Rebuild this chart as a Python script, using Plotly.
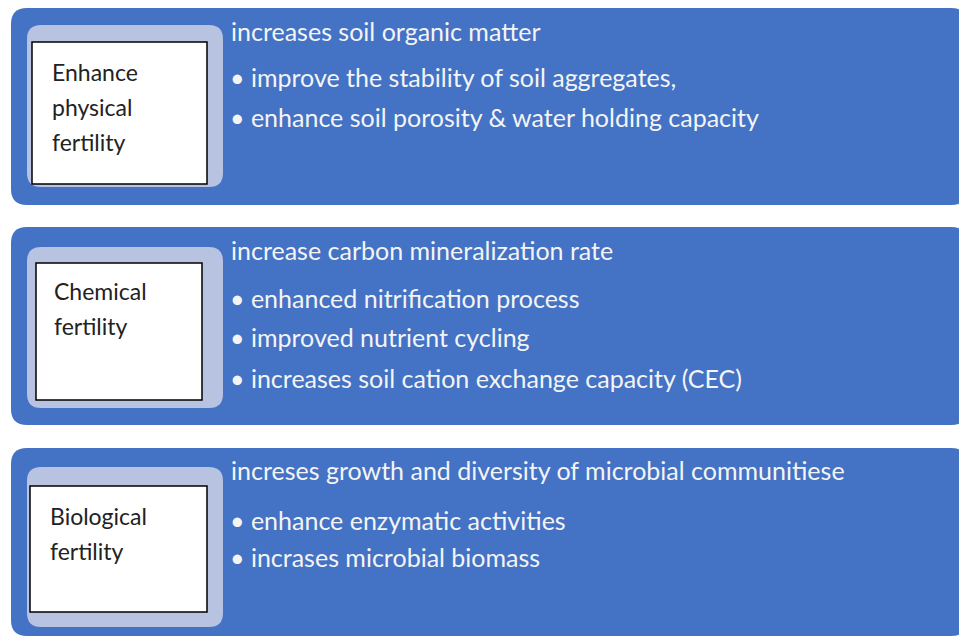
import plotly.graph_objects as go

# contenu du schéma
labels = [["Enhance", "physical", "fertility"], ["Chemical", "fertility"], ["Biological", "fertility"]]
headings = [
    "increases soil organic matter",
    "increase carbon mineralization rate",
    "increses growth and diversity of microbial communitiese",
]
bullets = [
    ["improve the stability of soil aggregates,",
     "enhance soil porosity & water holding capacity"],
    ["enhanced nitrification process",
     "improved nutrient cycling",
     "increases soil cation exchange capacity (CEC)"],
    ["enhance enzymatic activities",
     "incrases microbial biomass"],
]

# géométrie des blocs (pixels)
panel_y = [(8, 205), (227, 425), (448, 636)]
inner_y = [(25, 187), (247, 408), (467, 627)]
white_box = [(32, 42, 207, 184), (36, 263, 202, 400), (30, 486, 207, 612)]
label_pos = [(50, 72), (52, 291), (48, 516)]
heading_y = [31, 250, 470]
bullet_y = [[77, 117], [298, 337, 378], [520, 557]]

BLUE = "#4472C4"
LIGHT = "#B8C3E2"
TXT = "#F4F4F4"
FONT = "Lato"

# la page a une marge de 8px : on décale la fenêtre
OFF = 8


def rounded_rect(x0, y0, x1, y1, r):
    return (f"M{x0+r},{y0} L{x1-r},{y0} Q{x1},{y0} {x1},{y0+r} "
            f"L{x1},{y1-r} Q{x1},{y1} {x1-r},{y1} L{x0+r},{y1} "
            f"Q{x0},{y1} {x0},{y1-r} L{x0},{y0+r} Q{x0},{y0} {x0+r},{y0} Z")


fig = go.Figure()
shapes = []
annotations = []
for i in range(3):
    py0, py1 = panel_y[i]
    shapes.append(dict(type="path", path=rounded_rect(11, py0, 967, py1, 16),
                       fillcolor=BLUE, line=dict(width=0), layer="below"))
    iy0, iy1 = inner_y[i]
    shapes.append(dict(type="path", path=rounded_rect(27, iy0, 223, iy1, 14),
                       fillcolor=LIGHT, line=dict(width=0), layer="below"))
    bx0, by0, bx1, by1 = white_box[i]
    shapes.append(dict(type="rect", x0=bx0, y0=by0, x1=bx1, y1=by1,
                       fillcolor="white", line=dict(color="black", width=1.5), layer="below"))
    lx, ly = label_pos[i]
    for k, line in enumerate(labels[i]):
        annotations.append(dict(x=lx, y=ly + 35 * k, text=line, showarrow=False, xanchor="left",
                                yanchor="middle", font=dict(family=FONT, size=23, color="#222222")))
    annotations.append(dict(x=229, y=heading_y[i], text=headings[i], showarrow=False,
                            xanchor="left", yanchor="middle",
                            font=dict(family=FONT, size=25, color=TXT)))
    for b, y in zip(bullets[i], bullet_y[i]):
        annotations.append(dict(x=228, y=y, text="• " + b, showarrow=False,
                                xanchor="left", yanchor="middle",
                                font=dict(family=FONT, size=25, color=TXT)))

fig.update_layout(
    width=967 - OFF, height=640 - OFF,
    margin=dict(l=0, r=0, t=0, b=0),
    paper_bgcolor="white", plot_bgcolor="white",
    xaxis=dict(range=[OFF, 967], visible=False, fixedrange=True),
    yaxis=dict(range=[640, OFF], visible=False, fixedrange=True),
    shapes=shapes, annotations=annotations, showlegend=False,
)
fig.write_html("out.html")
